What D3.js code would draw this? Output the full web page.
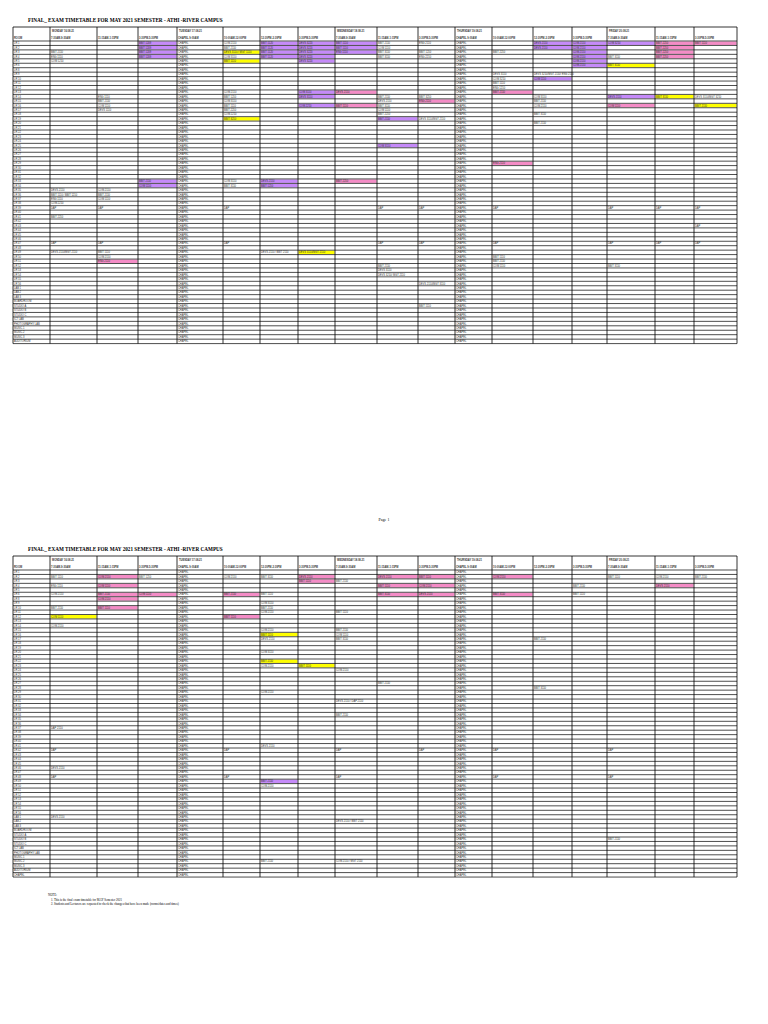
<!DOCTYPE html>
<html><head><meta charset="utf-8">
<script src="https://cdn.jsdelivr.net/npm/d3@7"></script>
<style>body{margin:0;background:#fff}svg{display:block}</style>
</head><body><svg id="c" width="768" height="1024"></svg>
<script>
const title = "FINAL_ EXAM TIMETABLE FOR MAY 2021 SEMESTER - ATHI -RIVER CAMPUS";
const dayHeads = [[1,"MONDAY 16.08.21"],[4,"TUESDAY 17.08.21"],[8,"WEDNESDAY 18.08.21"],[11,"THURSDAY 19.08.21"],[15,"FRIDAY 20.08.21"]];
const slotHeads = ["ROOM","7:30AM-9:30AM","11:15AM-1:15PM","3:30PM-5:30PM","CHAPEL 9:00AM","10:00AM-12:00PM","12:30PM-2:30PM","3:30PM-5:30PM",
  "7:30AM-9:30AM","11:15AM-1:15PM","3:30PM-5:30PM","CHAPEL 9:00AM","10:00AM-12:00PM","12:30PM-2:30PM","3:30PM-5:30PM","7:30AM-9:30AM","11:15AM-1:15PM","3:30PM-5:30PM"];
const colEdges = [13,50,97,138,177,223,260,298,335,377,418,455,492,533,572,607,655,694,737];
const rooms = ["LR 1","LR 2","LR 3","LR 4","LR 5","LR 6","LR 8","LR 9","LR 10","LR 11","LR 12","LR 13","LR 14","LR 15","LR 16","LR 17",
 "LR 18","LR 19","LR 20","LR 21","LR 22","LR 23","LR 24","LR 25","LR 26","LR 27","LR 28","LR 29","LR 30","LR 31","LR 32","LR 33",
 "LR 34","LR 35","LR 36","LR 37","LR 38","LR 39","LR 40","LR 41","LR 42","LR 43","LR 44","LR 45","LR 46","LR 47","LR 48","LR 49",
 "LR 50","LR 51","LR 52","LR 53","LR 54","LR 55","LR 56","LAB 1","LAB 2","LAB 3","BOARDROOM","STUDIO A","STUDIO B","STUDIO C",
 "ICT LAB","PHOTOGRAPHY LAB","MUSIC 1","MUSIC 2","MUSIC 3","AUDITORIUM","CHAPEL"];
// [row, col, text, fill]  fill: p purple, k pink, y yellow
const cells1 = [
 [0,3,"BBIT 1209","p"],[1,3,"BBIT 1209","p"],[2,3,"BBIT 1209","p"],[3,3,"BBIT 1209","p"],
 [2,1,"BBIT 2110",null],[3,1,"ENG 1110",null],[4,1,"COM 1210",null],
 [0,5,"COM 2110",null],[1,5,"BBIT 2110",null],[2,5,"DEVS 3110 / MGT 1110","y"],[3,5,"COM 3110",null],[4,5,"BBIT 1110","y"],
 [0,6,"BBIT 1120","p"],[1,6,"BBIT 1120","p"],[2,6,"BBIT 1120","p"],[3,6,"BBIT 1120","p"],
 [0,7,"DEVS 3220","p"],[1,7,"DEVS 3220","p"],[2,7,"DEVS 3220","p"],[3,7,"DEVS 3220","p"],[4,7,"DEVS 3220","p"],
 [0,8,"BBIT 1110","p"],[1,8,"BBIT 1110","p"],[2,8,"ENG 1110","p"],
 [0,9,"BBIT 2110",null],[1,9,"COM 1110",null],[2,9,"BBIT 3110",null],[3,9,"BBIT 3110",null],
 [0,10,"ENG 2110",null],[2,10,"BBIT 1210",null],[3,10,"ENG 2210",null],[2,12,"BBIT 2210",null],
 [0,13,"DEVS 2110","p"],[1,13,"DEVS 2110","p"],[0,14,"COM 2110","p"],[1,14,"COM 2110","p"],[2,14,"COM 2110","p"],[3,14,"COM 2110","p"],[4,14,"COM 2110","p"],[5,14,"COM 2110","p"],
 [0,15,"COM 3210","p"],[3,15,"BBIT 3110",null],[5,15,"BBIT 3110","y"],
 [0,16,"BBIT 2210","k"],[1,16,"BBIT 2210","k"],[2,16,"BBIT 2210","k"],[3,16,"BBIT 2210","k"],[0,17,"BBIT 1110","k"],
 [7,12,"DEVS 3110",null],[8,12,"COM 3210",null],[9,12,"BBIT 1110",null],[10,12,"ENG 1210",null],
 [7,13,"DEVS 3210/MGT 2110/ ENG 2110",null],[8,13,"COM 1110","p"],
 [11,12,"BBIT 2110","k"],
 [12,2,"ENG 1110",null],[13,2,"BBIT 2110",null],[14,2,"COM 1110",null],[15,2,"DEVS 1110",null],
 [11,5,"COM 2110",null],[12,5,"BBIT 1210",null],[13,5,"COM 3110",null],[14,5,"BBIT 1110",null],[15,5,"BBIT 2210",null],[16,5,"COM 2210",null],[17,5,"BBIT 3210","y"],
 [11,7,"COM 3110","p"],[12,7,"DEVS 3110","p"],[14,7,"COM 2210","p"],[11,8,"DEVS 2110","k"],[14,8,"BBIT 1110","k"],
 [12,9,"BBIT 2110",null],[13,9,"DEVS 2110",null],[14,9,"BBIT 3110",null],[15,9,"COM 1110",null],[16,9,"BBIT 2210",null],[17,9,"BBIT 2110","p"],
 [12,10,"BBIT 3210",null],[13,10,"ENG 2110","k"],[17,10,"DEVS 3110/MGT 2110",null],
 [12,13,"COM 3110",null],[13,13,"BBIT 2110",null],[14,13,"COM 2110",null],[16,13,"BBIT 3110",null],[18,13,"BBIT 2110",null],
 [12,15,"DEVS 2110","p"],[12,16,"BBIT 3110","y"],[12,17,"DEVS 3110/MGT 3210",null],[14,15,"COM 1110","k"],[14,17,"BBIT 2110","y"],
 [23,9,"COM 3110","p"],[27,12,"ENG 2110","k"],
 [31,3,"BBIT 2110","p"],[32,3,"COM 1110","p"],[31,6,"DEVS 2110","p"],[32,6,"BBIT 1210","p"],[31,5,"COM 3110",null],[32,5,"BBIT 3110",null],[31,8,"BBIT 2210","k"],
 [33,1,"DEVS 2110",null],[33,2,"COM 2110",null],[34,1,"BBIT 1110 / BBIT 1210",null],[34,2,"BBIT 2110",null],[35,1,"ENG 1110",null],[35,2,"COM 1110",null],[36,1,"COM 2210",null],
 [37,1,"DAP",null],[37,2,"DAP",null],[37,5,"DAP",null],[37,9,"DAP",null],[37,10,"DAP",null],[37,12,"DAP",null],[37,15,"DAP",null],[37,16,"DAP",null],[37,17,"DAP",null],
 [39,1,"BBIT 2210",null],[41,17,"DAP",null],
 [45,1,"DAP",null],[45,2,"DAP",null],[45,5,"DAP",null],[45,9,"DAP",null],[45,10,"DAP",null],[45,12,"DAP",null],[45,15,"DAP",null],[45,16,"DAP",null],[45,17,"DAP",null],
 [47,1,"DEVS 2110/MGT 2110",null],[47,2,"BBIT 1110",null],[47,6,"DEVS 2110 / BBIT 2110",null],[47,7,"DEVS 3110/MGT 2110","y"],
 [48,2,"COM 2110",null],[49,2,"ENG 2110","k"],[48,12,"BBIT 1110",null],[49,12,"BBIT 2110",null],[50,12,"COM 1110",null],[50,15,"BBIT 3110",null],
 [50,9,"BBIT 2110",null],[51,9,"DEVS 3110",null],[52,9,"DEVS 3210/ MGT 2110",null],[54,10,"DEVS 2110/MGT 3110",null],[59,10,"BBIT 1110",null]
];
const cells2 = [
 [1,1,"BBIT 1110",null],[1,2,"COM 2110","k"],[1,3,"BBIT 1210",null],[1,5,"COM 2110",null],[1,6,"BBIT 3110",null],[1,7,"DEVS 2110","k"],[2,7,"BBIT 1110","k"],[2,8,"BBIT 2110",null],
 [1,9,"DEVS 2110","k"],[1,10,"BBIT 1110","k"],[1,12,"COM 2110","k"],[1,15,"BBIT 1110",null],[1,16,"COM 2110",null],[1,17,"BBIT 2110",null],
 [3,1,"ENG 1110",null],[3,2,"COM 1110","k"],[3,9,"BBIT 1110","k"],[3,10,"COM 2110","k"],[3,14,"BBIT 2110",null],[3,16,"DEVS 2110","k"],
 [5,1,"COM 2110",null],[5,2,"BBIT 2110","k"],[5,3,"COM 1110","k"],[5,5,"BBIT 2110","k"],[5,6,"BBIT 1110",null],[5,9,"BBIT 3110","k"],[5,10,"DEVS 2110","k"],[5,12,"BBIT 3110","k"],[5,14,"BBIT 1110",null],
 [6,2,"COM 2110","k"],[7,6,"COM 3110",null],[8,6,"BBIT 2110",null],[8,1,"BBIT 2110",null],[8,2,"BBIT 1110","k"],[9,6,"COM 2110",null],[9,8,"BBIT 1110",null],[10,1,"COM 1110","y"],[10,5,"BBIT 1110","k"],
 [12,1,"COM 2110",null],[13,6,"COM 2110",null],[14,6,"BBIT 1110","y"],[13,8,"BBIT 2110",null],[14,8,"COM 1110",null],[15,8,"BBIT 3110",null],[15,6,"DEVS 2110",null],[15,13,"BBIT 2110",null],
 [18,6,"COM 3110",null],[20,6,"BBIT 2110","y"],[21,6,"COM 2110",null],[21,7,"BBIT 1110","y"],[22,8,"COM 2110",null],
 [25,9,"BBIT 2110",null],[26,13,"BBIT 3110",null],[27,6,"COM 2110",null],[29,8,"DEVS 2110 / DAP 2110",null],[32,8,"BBIT 2110",null],[35,1,"DAP 2110",null],
 [39,6,"DEVS 2110",null],[40,1,"DAP",null],[40,5,"DAP",null],[40,8,"DAP",null],[40,10,"DAP",null],[40,12,"DAP",null],[40,15,"DAP",null],
 [44,1,"DEVS 2110",null],[46,1,"DAP",null],[46,5,"DAP",null],[46,8,"DAP",null],[46,12,"DAP",null],[46,15,"DAP",null],[47,6,"BBIT 2110","p"],[48,6,"COM 2110",null],
 [55,1,"DEVS 2110",null],[56,8,"DEVS 2110 / BBIT 2110",null],[60,15,"BBIT 2110",null],[65,6,"BBIT 2110",null],[65,8,"COM 2110 / MGT 2110",null]
];
const notes = ["NOTE:","1. This is the final exam timetable for MAY Semester 2021","2. Students and Lecturers are requested to check the changes that have been made (rooms/dates and times)"];

const fills = {p:"#c58af9", k:"#f48cc6", y:"#ffff00"};
const svg = d3.select("#c");
const rowH = 4.45;

function page(top, nRows, cells) {
  const g = svg.append("g");
  const y = d => top + 14 + d * rowH;
  g.append("text").attr("x", 28).attr("y", top - 5).attr("font-family", "Liberation Serif").attr("font-weight", "bold").attr("font-size", 5.2).text(title);
  g.selectAll("rect.f").data(cells.filter(c => c[3])).join("rect")
    .attr("x", c => colEdges[c[1]] + 0.5).attr("y", c => y(c[0]) + 0.5)
    .attr("width", c => colEdges[c[1] + 1] - colEdges[c[1]] - 1).attr("height", rowH - 1)
    .attr("fill", c => fills[c[3]]);
  const t = g.append("g").attr("font-family", "Liberation Sans").attr("font-size", 2.6).attr("fill", "#333");
  dayHeads.forEach(([c, s]) => t.append("text").attr("x", colEdges[c] + 2).attr("y", top + 4.5).attr("font-weight", "bold").text(s));
  slotHeads.forEach((s, i) => t.append("text").attr("x", colEdges[i] + 1).attr("y", top + 12).attr("font-weight", "bold").text(s));
  rooms.slice(0, nRows).forEach((r, i) => t.append("text").attr("x", colEdges[0] + 1).attr("y", y(i) + 3.2).text(r));
  [4, 11].forEach(c => d3.range(nRows).forEach(i => t.append("text").attr("x", colEdges[c] + 1).attr("y", y(i) + 3.2).text("CHAPEL")));
  cells.forEach(c => t.append("text").attr("x", colEdges[c[1]] + 1).attr("y", y(c[0]) + 3.2).text(c[2]));
  const bottom = y(nRows);
  g.selectAll("line.v").data(colEdges).join("line")
    .attr("x1", d => d).attr("x2", d => d).attr("y1", top).attr("y2", bottom).attr("stroke", "#000").attr("stroke-width", 0.8);
  g.selectAll("line.h").data(d3.range(nRows + 1)).join("line")
    .attr("x1", colEdges[0]).attr("x2", colEdges[colEdges.length - 1])
    .attr("y1", d => y(d)).attr("y2", d => y(d)).attr("stroke", "#000").attr("stroke-width", 0.7);
  g.append("line").attr("x1", colEdges[0]).attr("x2", 737).attr("y1", top).attr("y2", top).attr("stroke", "#000").attr("stroke-width", 0.8);
}

page(27, 68, cells1);
svg.append("text").attr("x", 384).attr("y", 521).attr("text-anchor", "middle").attr("font-family", "Liberation Serif").attr("font-size", 4).text("Page 1");
page(556, 69, cells2);
notes.forEach((n, i) => svg.append("text").attr("x", 48 + (i ? 3 : 0)).attr("y", 896 + i * 4.5)
  .attr("font-family", "Liberation Serif").attr("font-size", 3).text(n));
</script></body></html>
